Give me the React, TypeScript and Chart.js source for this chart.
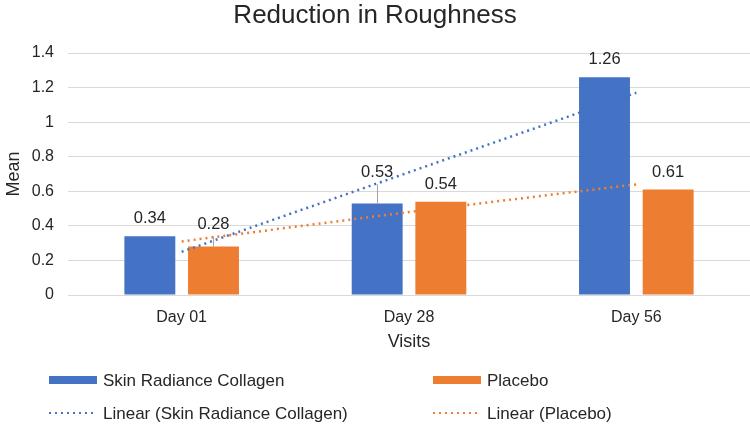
import { useEffect, useRef } from 'react'
import { Chart, registerables, type ChartConfiguration, type Plugin } from 'chart.js'

Chart.register(...registerables)

const visits = ['Day 01', 'Day 28', 'Day 56']
const skinMeans = [0.34, 0.53, 1.26]
const placeboMeans = [0.28, 0.54, 0.61]
// upper error bar lengths (0 = none shown)
const skinErr = [0, 0.11, 0]
const placeboErr = [0.06, 0, 0]
// linear trendlines
const skinTrend = [0.25, 0.71, 1.17]
const placeboTrend = [0.31, 0.48, 0.64]
const yTicks = [0, 0.2, 0.4, 0.6, 0.8, 1, 1.2, 1.4]

const BLUE = '#4472C4'
const ORANGE = '#ED7D31'
const TEXT = '#262626'
const FONT = '"Liberation Sans", Arial, sans-serif'

const errs = [skinErr, placeboErr]

const extras: Plugin<'bar'> = {
  id: 'extras',
  afterDatasetsDraw(chart) {
    const { ctx, scales } = chart
    const y = scales.y
    ctx.save()
    // error bars + data labels for the two bar datasets
    ;[0, 1].forEach(di => {
      const meta = chart.getDatasetMeta(di)
      const values = chart.data.datasets[di].data as number[]
      meta.data.forEach((bar, i) => {
        const v = values[i]
        const top = y.getPixelForValue(v)
        let labelY = top - 13
        const e = errs[di][i]
        if (e > 0) {
          const et = y.getPixelForValue(v + e)
          ctx.strokeStyle = '#A5A5A5'
          ctx.lineWidth = 1
          ctx.beginPath()
          ctx.moveTo(Math.round(bar.x) + 0.5, top)
          ctx.lineTo(Math.round(bar.x) + 0.5, et)
          ctx.stroke()
          labelY = Math.min(labelY, et - 7)
        }
        ctx.fillStyle = TEXT
        ctx.font = `16.5px ${FONT}`
        ctx.textAlign = 'center'
        ctx.textBaseline = 'alphabetic'
        ctx.fillText(v.toFixed(2), bar.x, labelY)
      })
    })
    ctx.restore()
  },
  afterDraw(chart) {
    const { ctx } = chart
    ctx.save()
    ctx.fillStyle = TEXT
    ctx.font = `26px ${FONT}`
    ctx.textAlign = 'center'
    ctx.textBaseline = 'alphabetic'
    ctx.fillText('Reduction in Roughness', 375, 23)

    // legend, two columns
    const items = [
      { label: 'Skin Radiance Collagen', color: BLUE, line: false, x: 49, y: 380 },
      { label: 'Placebo', color: ORANGE, line: false, x: 433, y: 380 },
      { label: 'Linear (Skin Radiance Collagen)', color: BLUE, line: true, x: 49, y: 413 },
      { label: 'Linear (Placebo)', color: ORANGE, line: true, x: 433, y: 413 },
    ]
    items.forEach(it => {
      if (it.line) {
        ctx.strokeStyle = it.color
        ctx.lineWidth = 2
        ctx.setLineDash([2, 4])
        ctx.beginPath()
        ctx.moveTo(it.x, it.y)
        ctx.lineTo(it.x + 47, it.y)
        ctx.stroke()
        ctx.setLineDash([])
      } else {
        ctx.fillStyle = it.color
        ctx.fillRect(it.x, it.y - 4, 48, 8)
      }
      ctx.fillStyle = TEXT
      ctx.font = `17px ${FONT}`
      ctx.textAlign = 'left'
      ctx.textBaseline = 'middle'
      ctx.fillText(it.label, it.x + 54, it.y + 1)
    })
    ctx.restore()
  },
}

export default function App() {
  const canvasRef = useRef<HTMLCanvasElement | null>(null)
  const chartRef = useRef<Chart | null>(null)

  useEffect(() => {
    if (!canvasRef.current) return

    const config: ChartConfiguration<'bar'> = {
      type: 'bar',
      data: {
        labels: visits,
        datasets: [
          {
            label: 'Skin Radiance Collagen',
            data: skinMeans,
            backgroundColor: BLUE,
            categoryPercentage: 0.56,
            barPercentage: 0.8,
            order: 2,
          },
          {
            label: 'Placebo',
            data: placeboMeans,
            backgroundColor: ORANGE,
            categoryPercentage: 0.56,
            barPercentage: 0.8,
            order: 2,
          },
          {
            type: 'line',
            label: 'Linear (Skin Radiance Collagen)',
            data: skinTrend,
            borderColor: BLUE,
            borderWidth: 2.5,
            borderDash: [2, 4],
            pointRadius: 0,
            order: 1,
          } as any,
          {
            type: 'line',
            label: 'Linear (Placebo)',
            data: placeboTrend,
            borderColor: ORANGE,
            borderWidth: 2.5,
            borderDash: [2, 4],
            pointRadius: 0,
            order: 1,
          } as any,
        ],
      },
      options: {
        responsive: true,
        maintainAspectRatio: false,
        animation: false,
        layout: { padding: { top: 53, bottom: 70, left: 0, right: 0 } },
        scales: {
          x: {
            grid: { display: false },
            border: { display: false },
            ticks: { color: TEXT, font: { family: FONT, size: 16 }, padding: 5 },
            title: {
              display: true,
              text: 'Visits',
              color: TEXT,
              font: { family: FONT, size: 18 },
              padding: { top: 0, bottom: 2 },
            },
            afterFit: scale => {
              scale.height = 60
            },
          },
          y: {
            min: 0,
            max: 1.4,
            afterBuildTicks: scale => {
              scale.ticks = yTicks.map(v => ({ value: v }))
            },
            grid: { color: '#D9D9D9', drawTicks: false },
            border: { display: false },
            ticks: {
              color: TEXT,
              font: { family: FONT, size: 16 },
              padding: 14,
              callback: v => String(Number(Number(v).toFixed(1))),
            },
            title: {
              display: true,
              text: 'Mean',
              color: TEXT,
              font: { family: FONT, size: 18 },
              padding: { top: 3, bottom: 0 },
            },
            afterFit: scale => {
              scale.width = 68
            },
          },
        },
        plugins: {
          legend: { display: false },
          title: { display: false },
          tooltip: { enabled: false },
        },
      },
      plugins: [extras],
    }

    chartRef.current = new Chart(canvasRef.current, config)
    return () => chartRef.current?.destroy()
  }, [])

  return (
    <div style={{ position: 'fixed', left: 0, top: 0, width: 750, height: 425, background: '#fff' }}>
      <canvas ref={canvasRef} role="img" aria-label="Reduction in Roughness: mean by visit" />
    </div>
  )
}
